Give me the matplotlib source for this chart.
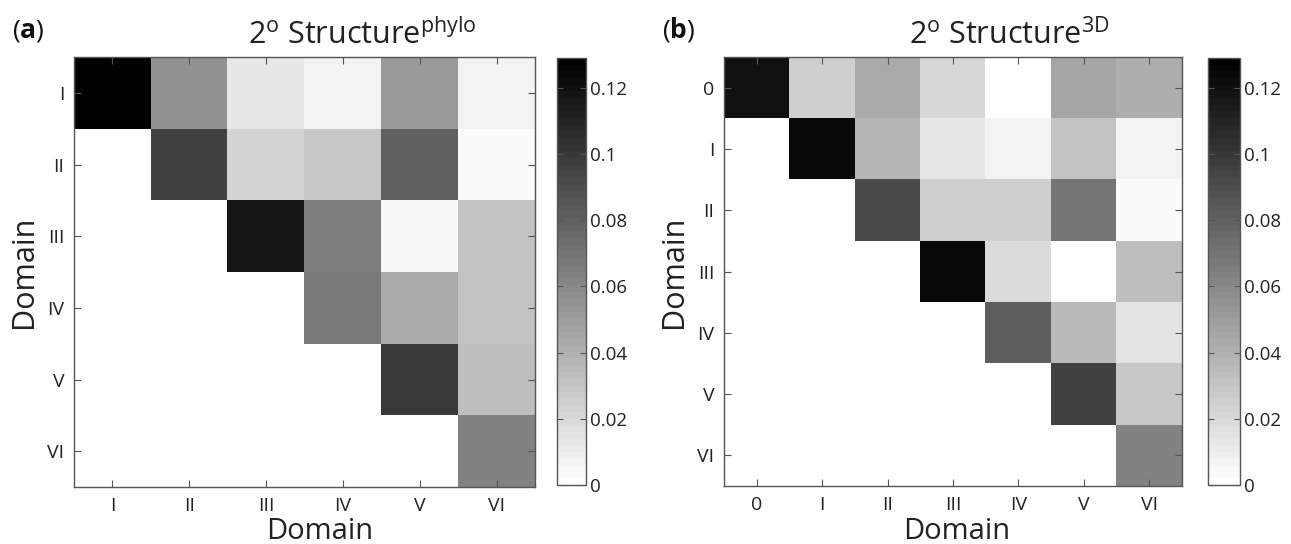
import numpy as np
import matplotlib.pyplot as plt
from matplotlib.colors import ListedColormap

plt.rcParams['font.family'] = ['Open Sans', 'DejaVu Sans']
plt.rcParams['mathtext.fontset'] = 'custom'
plt.rcParams['mathtext.rm'] = 'Open Sans'
plt.rcParams['mathtext.bf'] = 'Open Sans:bold'

VMAX = 0.129
nan = np.nan

# (a) phylogenetic secondary structure, domains I..VI (upper triangle)
labels_a = ['I', 'II', 'III', 'IV', 'V', 'VI']
row_a_I = [0.129, 0.056, 0.013, 0.008, 0.051, 0.008]
row_a_II = [nan, 0.096, 0.023, 0.030, 0.080, 0.003]
row_a_III = [nan, nan, 0.117, 0.066, 0.005, 0.031]
row_a_IV = [nan, nan, nan, 0.068, 0.044, 0.032]
row_a_V = [nan, nan, nan, nan, 0.100, 0.033]
row_a_VI = [nan, nan, nan, nan, nan, 0.064]

# (b) 3D secondary structure, domains 0..VI
labels_b = ['0', 'I', 'II', 'III', 'IV', 'V', 'VI']
row_b_0 = [0.120, 0.026, 0.043, 0.022, 0.000, 0.045, 0.041]
row_b_I = [nan, 0.124, 0.038, 0.013, 0.007, 0.031, 0.008]
row_b_II = [nan, nan, 0.091, 0.026, 0.026, 0.070, 0.003]
row_b_III = [nan, nan, nan, 0.124, 0.020, 0.002, 0.033]
row_b_IV = [nan, nan, nan, nan, 0.081, 0.036, 0.016]
row_b_V = [nan, nan, nan, nan, nan, 0.096, 0.030]
row_b_VI = [nan, nan, nan, nan, nan, nan, 0.064]

mat_a = np.array([row_a_I, row_a_II, row_a_III, row_a_IV, row_a_V, row_a_VI])
mat_b = np.array([row_b_0, row_b_I, row_b_II, row_b_III, row_b_IV, row_b_V, row_b_VI])

cmap = ListedColormap(plt.cm.gray_r(np.linspace(0, 1, 64)))
cmap.set_bad('white')

W, H = 1291, 544
fig = plt.figure(figsize=(W / 100, H / 100), dpi=100)


def px(l, t, r, b):
    return [l / W, 1 - b / H, (r - l) / W, (b - t) / H]


def panel(mat, labels, ax_box, cb_box, letter, letter_x, title_x, sup, ylab_x, xlab_x):
    ax = fig.add_axes(px(*ax_box))
    n = len(labels)
    im = ax.imshow(mat, cmap=cmap, vmin=0, vmax=VMAX, aspect='auto',
                   interpolation='nearest', extent=(-0.5, n - 0.5, n - 0.5, -0.5))
    ax.set_xticks(range(n))
    ax.set_yticks(range(n))
    ax.set_xticklabels(labels, fontsize=14, color='#222222')
    ax.set_yticklabels(labels, fontsize=14, color='#222222')
    ax.tick_params(direction='in', length=5, width=0.8, color='#555555',
                   top=True, right=True)
    ax.tick_params(axis='x', pad=7)
    ax.tick_params(axis='y', pad=7)
    for s in ax.spines.values():
        s.set_color('#555555')
        s.set_linewidth(1.0)

    cax = fig.add_axes(px(*cb_box))
    cb = fig.colorbar(im, cax=cax)
    cb.set_ticks([0, 0.02, 0.04, 0.06, 0.08, 0.1, 0.12])
    cb.set_ticklabels(['0', '0.02', '0.04', '0.06', '0.08', '0.1', '0.12'])
    cax.tick_params(direction='in', length=4, width=0.8, color='#555555',
                    left=True, right=True, labelsize=13.5, labelcolor='#222222', pad=3)
    cb.outline.set_edgecolor('#555555')
    cb.outline.set_linewidth(1.0)

    fig.text(letter_x / W, 1 - 38 / H, r'($\mathbf{' + letter + '}$)', fontsize=19,
             ha='left', va='baseline', color='#111111')
    fig.text(title_x / W, 1 - 44 / H,
             r'2$^\mathregular{o}$ Structure$^\mathregular{' + sup + '}$',
             fontsize=22, ha='left', va='baseline', color='#222222')
    fig.text(ylab_x / W, 1 - 272 / H, 'Domain', fontsize=22, rotation=90,
             ha='center', va='center', color='#222222')
    fig.text(xlab_x / W, 1 - 539 / H, 'Domain', fontsize=21,
             ha='center', va='baseline', color='#222222')


panel(mat_a, labels_a, (74, 57, 535, 487), (557, 58, 586, 485), 'a', 12, 248, 'phylo', 24, 320)
panel(mat_b, labels_b, (724, 57, 1182, 486), (1208, 58, 1240, 485), 'b', 662, 909, '3D', 674, 957)

fig.savefig('out.png', dpi=100)
